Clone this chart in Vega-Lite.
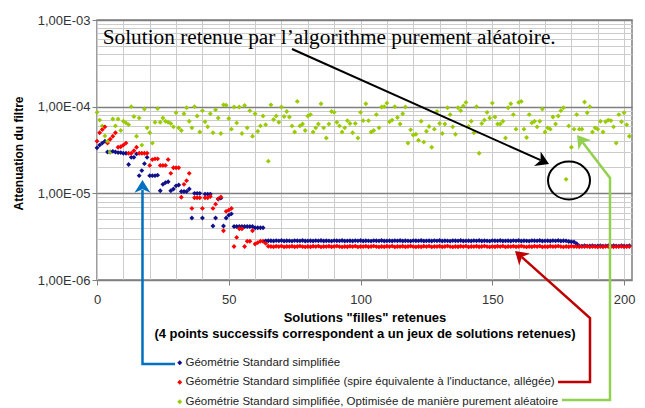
{
"$schema":"https://vega.github.io/schema/vega-lite/v6.json",
"width":535,"height":260,
"autosize":{"type":"none"},
"padding":{"left":97,"top":20,"right":13,"bottom":128},
"background":"white",
"config":{"view":{"stroke":"#7f7f7f","strokeWidth":1.5},"font":"Liberation Sans"},
"encoding":{
"x":{"field":"x","type":"quantitative","scale":{"domain":[0,203],"nice":false,"zero":false},
"axis":{"values":[0,10,20,30,40,50,60,70,80,90,100,110,120,130,140,150,160,170,180,190,200],
"labelExpr":"datum.value % 50 == 0 ? datum.label : ''","labelFlush":false,"labelOverlap":false,
"grid":true,"gridColor":"#cccccc","gridWidth":1,"domain":false,"ticks":true,"tickSize":5,"tickColor":"#7f7f7f",
"tickOpacity":{"condition":{"test":"datum.value % 50 == 0","value":1},"value":0},
"labelFontSize":13,"labelColor":"#333333","labelPadding":8,"labelFont":"Liberation Sans",
"title":["Solutions \"filles\" retenues","(4 points successifs correspondent a un jeux de solutions retenues)"],
"titleFontSize":13,"titleFontWeight":"bold","titleColor":"black","titlePadding":5,"titleLineHeight":16,"titleFont":"Liberation Sans"}},
"y":{"field":"y","type":"quantitative","scale":{"type":"log","domain":[0.000001,0.001],"nice":false},
"axis":{"values":[1e-6,2e-6,3e-6,4e-6,5e-6,6e-6,7e-6,8e-6,9e-6,1e-5,2e-5,3e-5,4e-5,5e-5,6e-5,7e-5,8e-5,9e-5,1e-4,2e-4,3e-4,4e-4,5e-4,6e-4,7e-4,8e-4,9e-4,1e-3],
"labelExpr":"abs(log(datum.value)/LN10 - round(log(datum.value)/LN10)) < 0.01 ? '1,00E-0' + (-round(log(datum.value)/LN10)) : ''",
"labelOverlap":false,"labelFlush":false,
"grid":true,
"gridColor":{"condition":{"test":"abs(log(datum.value)/LN10 - round(log(datum.value)/LN10)) < 0.01","value":"#7f7f7f"},"value":"#cccccc"},
"gridWidth":{"condition":{"test":"abs(log(datum.value)/LN10 - round(log(datum.value)/LN10)) < 0.01","value":1.6},"value":1},
"domain":false,"ticks":true,"tickSize":5,"tickColor":"#7f7f7f",
"tickOpacity":{"condition":{"test":"abs(log(datum.value)/LN10 - round(log(datum.value)/LN10)) < 0.01","value":1},"value":0},
"labelFontSize":13,"labelColor":"#333333","labelPadding":2,"labelFont":"Liberation Sans",
"title":"Attenuation du filtre","titleFontSize":12,"titleFontWeight":"bold","titleColor":"black","titleFont":"Liberation Sans",
"titleX":-79,"titleY":133,"titleAngle":-90,"titleAlign":"center","titleBaseline":"middle"}}
},
"layer":[
{"data":{"values":[
{"x":0,"b":3.35e-5,"r":4.0e-5,"g":8.6e-5},{"x":1,"b":3.6e-5,"r":5.0e-5,"g":7.0e-5},{"x":2,"b":3.8e-5,"r":5.45e-5,"g":6.0e-5},{"x":3,"b":4.0e-5,"r":5.85e-5,"g":4.6e-5},
{"x":4,"b":3.0e-5,"r":3.8e-5,"g":4.0e-5},{"x":5,"b":3.0e-5,"r":4.2e-5,"g":3.0e-5},{"x":6,"b":3.05e-5,"r":4.55e-5,"g":7.2e-5},{"x":7,"b":3.0e-5,"r":5.0e-5,"g":6.0e-5},
{"x":8,"b":2.95e-5,"r":3.4e-5,"g":7.2e-5},{"x":9,"b":2.95e-5,"r":3.45e-5,"g":5.3e-5},{"x":10,"b":2.9e-5,"r":3.6e-5,"g":6.8e-5},{"x":11,"b":2.9e-5,"r":3.8e-5,"g":6.5e-5},
{"x":12,"b":2.15e-5,"r":2.9e-5,"g":6.2e-5},{"x":13,"b":2.6e-5,"r":2.9e-5,"g":1.0e-4},{"x":14,"b":2.6e-5,"r":3.1e-5,"g":7.7e-5},{"x":15,"b":2.85e-5,"r":3.4e-5,"g":4.55e-5},
{"x":16,"b":1.6e-5,"r":2.9e-5,"g":7.4e-5},{"x":17,"b":1.83e-5,"r":2.9e-5,"g":3.6e-5},{"x":18,"b":2.2e-5,"r":2.9e-5,"g":9.4e-5},{"x":19,"b":2.6e-5,"r":2.9e-5,"g":5.7e-5},
{"x":20,"b":1.6e-5,"r":2.1e-5,"g":5.0e-5},{"x":21,"b":1.6e-5,"r":2.45e-5,"g":3.8e-5},{"x":22,"b":1.6e-5,"r":2.5e-5,"g":6.6e-5},{"x":23,"b":1.62e-5,"r":2.5e-5,"g":9.5e-5},
{"x":24,"b":1.07e-5,"r":2.1e-5,"g":6.6e-5},{"x":25,"b":1.27e-5,"r":2.1e-5,"g":7.4e-5},{"x":26,"b":1.33e-5,"r":2.1e-5,"g":6.8e-5},{"x":27,"b":1.36e-5,"r":2.45e-5,"g":6.6e-5},
{"x":28,"b":1.07e-5,"r":1.7e-5,"g":6.4e-5},{"x":29,"b":1.12e-5,"r":1.97e-5,"g":5.85e-5},{"x":30,"b":1.22e-5,"r":1.97e-5,"g":8.5e-5},{"x":31,"b":1.25e-5,"r":1.97e-5,"g":5.7e-5},
{"x":32,"b":1.05e-5,"r":9.0e-6,"g":5.3e-5},{"x":33,"b":1.05e-5,"r":1.27e-5,"g":8.3e-5},{"x":34,"b":1.05e-5,"r":1.4e-5,"g":9.7e-5},{"x":35,"b":1.12e-5,"r":1.7e-5,"g":6.8e-5},
{"x":36,"b":5.2e-6,"r":6.7e-6,"g":5.7e-5},{"x":37,"b":1.0e-5,"r":8.9e-6,"g":1.0e-4},{"x":38,"b":1.0e-5,"r":8.9e-6,"g":7.8e-5},{"x":39,"b":1.0e-5,"r":8.9e-6,"g":5.1e-5},
{"x":40,"b":5.2e-6,"r":6.7e-6,"g":9.0e-5},{"x":41,"b":9.8e-6,"r":8.9e-6,"g":6.7e-5},{"x":42,"b":9.8e-6,"r":8.9e-6,"g":5.85e-5},{"x":43,"b":9.8e-6,"r":9.2e-6,"g":8.3e-5},
{"x":44,"b":4.2e-6,"r":6.7e-6,"g":5.0e-5},{"x":45,"b":5.2e-6,"r":7.5e-6,"g":9.2e-5},{"x":46,"b":8.6e-6,"r":8.6e-6,"g":7.4e-5},{"x":47,"b":8.8e-6,"r":9.1e-6,"g":4.9e-5},
{"x":48,"b":4.2e-6,"r":3.7e-6,"g":1.05e-4},{"x":49,"b":5.2e-6,"r":6.2e-6,"g":1.04e-4},{"x":50,"b":5.6e-6,"r":6.4e-6,"g":7.3e-5},{"x":51,"b":5.8e-6,"r":6.7e-6,"g":5.5e-5},
{"x":52,"b":4.15e-6,"r":2.44e-6,"g":9.9e-5},{"x":53,"b":4.15e-6,"r":3.1e-6,"g":6.5e-5},{"x":54,"b":4.15e-6,"r":3.9e-6,"g":9.9e-5},{"x":55,"b":4.15e-6,"r":3.9e-6,"g":4.9e-5},
{"x":56,"b":4.15e-6,"r":2.44e-6,"g":1.03e-4},{"x":57,"b":4.15e-6,"r":2.8e-6,"g":5.7e-5},{"x":58,"b":4.15e-6,"r":2.8e-6,"g":9.0e-5},{"x":59,"b":4.15e-6,"r":3.7e-6,"g":4.55e-5},
{"x":60,"b":4.0e-6,"r":2.6e-6,"g":8.3e-5},{"x":61,"b":4.0e-6,"r":2.7e-6,"g":5.2e-5},{"x":62,"b":4.0e-6,"r":2.8e-6,"g":6.0e-5},{"x":63,"b":4.0e-6,"r":2.8e-6,"g":7.8e-5},
{"x":64,"b":2.83e-6,"r":2.65e-6,"g":6.2e-5},{"x":65,"b":2.84e-6,"r":2.45e-6,"g":2.35e-5},
{"x":66,"b":2.84e-6,"r":2.44e-6,"g":1.05e-4},{"x":67,"b":2.82e-6,"r":2.42e-6,"g":7.1e-5},{"x":68,"b":2.85e-6,"r":2.45e-6,"g":7.8e-5},{"x":69,"b":2.83e-6,"r":2.43e-6,"g":6.6e-5},
{"x":70,"b":2.86e-6,"r":2.46e-6,"g":9.9e-5},{"x":71,"b":2.82e-6,"r":2.41e-6,"g":7.7e-5},{"x":72,"b":2.84e-6,"r":2.44e-6,"g":8.8e-5},{"x":73,"b":2.83e-6,"r":2.43e-6,"g":7.6e-5},
{"x":74,"b":2.81e-6,"r":2.45e-6,"g":6.0e-5},{"x":75,"b":2.85e-6,"r":2.42e-6,"g":5.1e-5},{"x":76,"b":2.84e-6,"r":2.44e-6,"g":1.15e-4},{"x":77,"b":2.83e-6,"r":2.46e-6,"g":6.0e-5},
{"x":78,"b":2.86e-6,"r":2.43e-6,"g":6.3e-5},{"x":79,"b":2.82e-6,"r":2.41e-6,"g":5.3e-5},{"x":80,"b":2.83e-6,"r":2.44e-6,"g":7.8e-5},{"x":81,"b":2.84e-6,"r":2.42e-6,"g":8.1e-5},
{"x":82,"b":2.82e-6,"r":2.45e-6,"g":5.1e-5},{"x":83,"b":2.85e-6,"r":2.43e-6,"g":5.7e-5},{"x":84,"b":2.83e-6,"r":2.46e-6,"g":6.3e-5},{"x":85,"b":2.86e-6,"r":2.41e-6,"g":1.08e-4},
{"x":86,"b":2.82e-6,"r":2.44e-6,"g":5.7e-5},{"x":87,"b":2.84e-6,"r":2.43e-6,"g":4.35e-5},{"x":88,"b":2.83e-6,"r":2.45e-6,"g":6.3e-5},{"x":89,"b":2.81e-6,"r":2.42e-6,"g":8.8e-5},
{"x":90,"b":2.85e-6,"r":2.44e-6,"g":8.6e-5},{"x":91,"b":2.84e-6,"r":2.46e-6,"g":6.6e-5},{"x":92,"b":2.83e-6,"r":2.43e-6,"g":6.0e-5},{"x":93,"b":2.86e-6,"r":2.41e-6,"g":5.1e-5},
{"x":94,"b":2.82e-6,"r":2.44e-6,"g":5.7e-5},{"x":95,"b":2.83e-6,"r":2.42e-6,"g":6.9e-5},{"x":96,"b":2.84e-6,"r":2.45e-6,"g":6.4e-5},{"x":97,"b":2.82e-6,"r":2.43e-6,"g":5.0e-5},
{"x":98,"b":2.85e-6,"r":2.46e-6,"g":6.4e-5},{"x":99,"b":2.83e-6,"r":2.41e-6,"g":4.35e-5},{"x":100,"b":2.86e-6,"r":2.44e-6,"g":8.6e-5},{"x":101,"b":2.82e-6,"r":2.43e-6,"g":6.9e-5},
{"x":102,"b":2.84e-6,"r":2.45e-6,"g":1.08e-4},{"x":103,"b":2.83e-6,"r":2.42e-6,"g":6.9e-5},{"x":104,"b":2.81e-6,"r":2.44e-6,"g":5.1e-5},{"x":105,"b":2.85e-6,"r":2.46e-6,"g":5.3e-5},
{"x":106,"b":2.84e-6,"r":2.43e-6,"g":8.1e-5},{"x":107,"b":2.83e-6,"r":2.41e-6,"g":5.7e-5},{"x":108,"b":2.86e-6,"r":2.44e-6,"g":9.9e-5},{"x":109,"b":2.82e-6,"r":2.42e-6,"g":1.0e-4},
{"x":110,"b":2.83e-6,"r":2.45e-6,"g":1.1e-4},{"x":111,"b":2.84e-6,"r":2.43e-6,"g":6.7e-5},{"x":112,"b":2.82e-6,"r":2.46e-6,"g":7.0e-5},{"x":113,"b":2.85e-6,"r":2.41e-6,"g":1.0e-4},
{"x":114,"b":2.83e-6,"r":2.44e-6,"g":7.5e-5},{"x":115,"b":2.86e-6,"r":2.43e-6,"g":6.3e-5},{"x":116,"b":2.82e-6,"r":2.45e-6,"g":8.3e-5},{"x":117,"b":2.84e-6,"r":2.42e-6,"g":9.9e-5},
{"x":118,"b":2.83e-6,"r":2.44e-6,"g":3.8e-5},{"x":119,"b":2.81e-6,"r":2.46e-6,"g":5.4e-5},{"x":120,"b":2.85e-6,"r":2.43e-6,"g":4.7e-5},{"x":121,"b":2.84e-6,"r":2.41e-6,"g":4.8e-5},
{"x":122,"b":2.83e-6,"r":2.44e-6,"g":4.1e-5},{"x":123,"b":2.86e-6,"r":2.42e-6,"g":6.8e-5},{"x":124,"b":2.82e-6,"r":2.45e-6,"g":3.9e-5},{"x":125,"b":2.83e-6,"r":2.43e-6,"g":5.2e-5},
{"x":126,"b":2.84e-6,"r":2.46e-6,"g":5.9e-5},{"x":127,"b":2.82e-6,"r":2.41e-6,"g":3.4e-5},{"x":128,"b":2.85e-6,"r":2.44e-6,"g":5.5e-5},{"x":129,"b":2.83e-6,"r":2.43e-6,"g":8.8e-5},
{"x":130,"b":2.86e-6,"r":2.45e-6,"g":6.4e-5},{"x":131,"b":2.82e-6,"r":2.42e-6,"g":4.9e-5},{"x":132,"b":2.84e-6,"r":2.44e-6,"g":6.3e-5},{"x":133,"b":2.83e-6,"r":2.46e-6,"g":9.7e-5},
{"x":134,"b":2.81e-6,"r":2.43e-6,"g":8.1e-5},{"x":135,"b":2.85e-6,"r":2.41e-6,"g":5.85e-5},{"x":136,"b":2.84e-6,"r":2.44e-6,"g":4.8e-5},{"x":137,"b":2.83e-6,"r":2.42e-6,"g":9.7e-5},
{"x":138,"b":2.86e-6,"r":2.45e-6,"g":9.0e-5},{"x":139,"b":2.82e-6,"r":2.43e-6,"g":1.02e-4},{"x":140,"b":2.83e-6,"r":2.46e-6,"g":1.12e-4},{"x":141,"b":2.84e-6,"r":2.41e-6,"g":5.9e-5},
{"x":142,"b":2.82e-6,"r":2.44e-6,"g":6.8e-5},{"x":143,"b":2.85e-6,"r":2.43e-6,"g":5.0e-5},{"x":144,"b":2.83e-6,"r":2.45e-6,"g":1.0e-4},{"x":145,"b":2.86e-6,"r":2.42e-6,"g":2.9e-5},
{"x":146,"b":2.82e-6,"r":2.44e-6,"g":6.4e-5},{"x":147,"b":2.84e-6,"r":2.46e-6,"g":7.0e-5},{"x":148,"b":2.83e-6,"r":2.43e-6,"g":8.6e-5},{"x":149,"b":2.81e-6,"r":2.41e-6,"g":7.4e-5},
{"x":150,"b":2.85e-6,"r":2.44e-6,"g":1.1e-4},{"x":151,"b":2.84e-6,"r":2.42e-6,"g":7.6e-5},{"x":152,"b":2.83e-6,"r":2.45e-6,"g":6.3e-5},{"x":153,"b":2.86e-6,"r":2.43e-6,"g":6.3e-5},
{"x":154,"b":2.82e-6,"r":2.46e-6,"g":6.8e-5},{"x":155,"b":2.83e-6,"r":2.41e-6,"g":4.35e-5},{"x":156,"b":2.84e-6,"r":2.44e-6,"g":9.7e-5},{"x":157,"b":2.82e-6,"r":2.43e-6,"g":1.08e-4},
{"x":158,"b":2.85e-6,"r":2.45e-6,"g":8.1e-5},{"x":159,"b":2.83e-6,"r":2.42e-6,"g":5.5e-5},{"x":160,"b":2.86e-6,"r":2.44e-6,"g":1.12e-4},{"x":161,"b":2.82e-6,"r":2.46e-6,"g":1.15e-4},
{"x":162,"b":2.84e-6,"r":2.43e-6,"g":5.5e-5},{"x":163,"b":2.83e-6,"r":2.41e-6,"g":4.4e-5},{"x":164,"b":2.81e-6,"r":2.44e-6,"g":8.1e-5},{"x":165,"b":2.85e-6,"r":2.42e-6,"g":6.5e-5},
{"x":166,"b":2.84e-6,"r":2.45e-6,"g":6.8e-5},{"x":167,"b":2.83e-6,"r":2.43e-6,"g":5.85e-5},{"x":168,"b":2.86e-6,"r":2.46e-6,"g":6.8e-5},{"x":169,"b":2.82e-6,"r":2.41e-6,"g":9.4e-5},
{"x":170,"b":2.83e-6,"r":2.44e-6,"g":5.1e-5},{"x":171,"b":2.84e-6,"r":2.42e-6,"g":5.7e-5},{"x":172,"b":2.82e-6,"r":2.45e-6,"g":5.5e-5},{"x":173,"b":2.85e-6,"r":2.43e-6,"g":7.6e-5},
{"x":174,"b":2.83e-6,"r":2.44e-6,"g":6.3e-5},{"x":175,"b":2.86e-6,"r":2.46e-6,"g":7.8e-5},{"x":176,"b":2.82e-6,"r":2.43e-6,"g":9.0e-5},{"x":177,"b":2.84e-6,"r":2.41e-6,"g":9.7e-5},
{"x":178,"b":2.83e-6,"r":2.44e-6,"g":1.45e-5},{"x":179,"b":2.78e-6,"r":2.42e-6,"g":6.0e-5},{"x":180,"b":2.76e-6,"r":2.45e-6,"g":3.4e-5},{"x":181,"b":2.75e-6,"r":2.43e-6,"g":5.5e-5},
{"x":182,"b":2.62e-6,"r":2.44e-6,"g":8.1e-5},{"x":183,"b":2.47e-6,"r":2.42e-6,"g":5.5e-5},{"x":184,"b":2.46e-6,"r":2.44e-6,"g":5.5e-5},{"x":185,"b":2.48e-6,"r":2.43e-6,"g":1.13e-4},
{"x":186,"b":2.46e-6,"r":2.45e-6,"g":8.5e-5},{"x":187,"b":2.47e-6,"r":2.42e-6,"g":1.0e-4},{"x":188,"b":2.49e-6,"r":2.44e-6,"g":5.1e-5},{"x":189,"b":2.46e-6,"r":2.43e-6,"g":5.7e-5},
{"x":190,"b":2.47e-6,"r":2.41e-6,"g":5.5e-5},{"x":191,"b":2.48e-6,"r":2.44e-6,"g":6.8e-5},{"x":192,"b":2.46e-6,"r":2.42e-6,"g":5.1e-5},{"x":193,"b":2.47e-6,"r":2.45e-6,"g":6.7e-5},
{"x":194,"b":2.49e-6,"r":2.43e-6,"g":7.0e-5},{"x":195,"b":2.46e-6,"r":2.44e-6,"g":6.9e-5},{"x":196,"b":2.48e-6,"r":2.42e-6,"g":5.85e-5},{"x":197,"b":2.47e-6,"r":2.44e-6,"g":3.8e-5},
{"x":198,"b":2.46e-6,"r":2.43e-6,"g":8.1e-5},{"x":199,"b":2.48e-6,"r":2.45e-6,"g":6.7e-5},{"x":200,"b":2.47e-6,"r":2.42e-6,"g":8.5e-5},{"x":201,"b":2.46e-6,"r":2.44e-6,"g":6.2e-5},
{"x":202,"b":2.48e-6,"r":2.43e-6,"g":4.55e-5}
]},
"transform":[{"fold":["b","r","g"],"as":["s","y"]}],
"mark":{"type":"point","shape":"diamond","filled":true,"size":24,"opacity":1},
"encoding":{"color":{"field":"s","type":"nominal","scale":{"domain":["b","r","g"],"range":["#10108a","#ff0000","#99cc00"]},
"legend":{"orient":"none","legendX":77,"legendY":337,"title":null,"direction":"vertical","symbolType":"diamond","symbolSize":25,
"labelFontSize":11.5,"labelFont":"Liberation Sans","labelColor":"#222222","labelLimit":600,"rowPadding":6.5,"labelOffset":0,"padding":0,
"labelExpr":"datum.label == 'b' ? 'Géométrie Standard simplifiée' : datum.label == 'r' ? \"Géométrie Standard simplifiée (spire équivalente à l'inductance, allégée)\" : 'Géométrie Standard simplifiée, Optimisée de manière purement aléatoire'"}}}},
{"data":{"values":[{"x":2.16,"y":0.0005216,"t":"Solution retenue par l’algorithme purement aléatoire."}]},
"mark":{"type":"text","align":"left","baseline":"alphabetic","font":"Liberation Serif","fontSize":21.3,"color":"black"},
"encoding":{"text":{"field":"t"}}},
{"data":{"values":[{"i":0,"x":73.99,"y":0.0004627},{"i":1,"x":168.32,"y":0.00002411}]},
"mark":{"type":"line","color":"black","strokeWidth":2},"encoding":{"order":{"field":"i","type":"quantitative"}}},
{"data":{"values":[{"x":168.74,"y":0.00002379}]},
"mark":{"type":"point","shape":"M0,-1L1,0.6L0,0.15L-1,0.6Z","size":256,"angle":114.2,"filled":true,"color":"black","opacity":1,"strokeWidth":0}},
{"data":{"values":[{"x":179.1,"y":0.00001406}]},
"mark":{"type":"point","shape":"M-1,0A1,0.9,0,1,1,1,0A1,0.9,0,1,1,-1,0Z","size":1764,"filled":false,"stroke":"black","strokeWidth":2,"opacity":1}},
{"data":{"values":[{"i":0,"x":29.6,"y":1.074e-7},{"i":1,"x":17.26,"y":1.074e-7},{"i":2,"x":17.26,"y":0.00001093}]},
"mark":{"type":"line","color":"#0070c0","strokeWidth":2.5},"encoding":{"order":{"field":"i","type":"quantitative"}}},
{"data":{"values":[{"x":17.26,"y":0.00001152}]},
"mark":{"type":"point","shape":"M0,-1L1,0.6L0,0.15L-1,0.6Z","size":256,"angle":0,"filled":true,"color":"#0070c0","opacity":1,"strokeWidth":0}},
{"data":{"values":[{"i":0,"x":174.92,"y":6.65e-8},{"i":1,"x":187.06,"y":6.65e-8},{"i":2,"x":187.06,"y":3.642e-7},{"i":3,"x":161.22,"y":0.000001837}]},
"mark":{"type":"line","color":"#c00000","strokeWidth":2.5},"encoding":{"order":{"field":"i","type":"quantitative"}}},
{"data":{"values":[{"x":160.88,"y":0.000001877}]},
"mark":{"type":"point","shape":"M0,-1L1,0.6L0,0.15L-1,0.6Z","size":256,"angle":-48.2,"filled":true,"color":"#c00000","opacity":1,"strokeWidth":0}},
{"data":{"values":[{"i":0,"x":176.44,"y":4.124e-8},{"i":1,"x":194.65,"y":4.124e-8},{"i":2,"x":194.65,"y":0.00001503},{"i":3,"x":184.26,"y":0.0000388}]},
"mark":{"type":"line","color":"#92d050","strokeWidth":2.5},"encoding":{"order":{"field":"i","type":"quantitative"}}},
{"data":{"values":[{"x":183.99,"y":0.00003986}]},
"mark":{"type":"point","shape":"M0,-1L1,0.6L0,0.15L-1,0.6Z","size":256,"angle":-37.5,"filled":true,"color":"#92d050","opacity":1,"strokeWidth":0}}
]
}
